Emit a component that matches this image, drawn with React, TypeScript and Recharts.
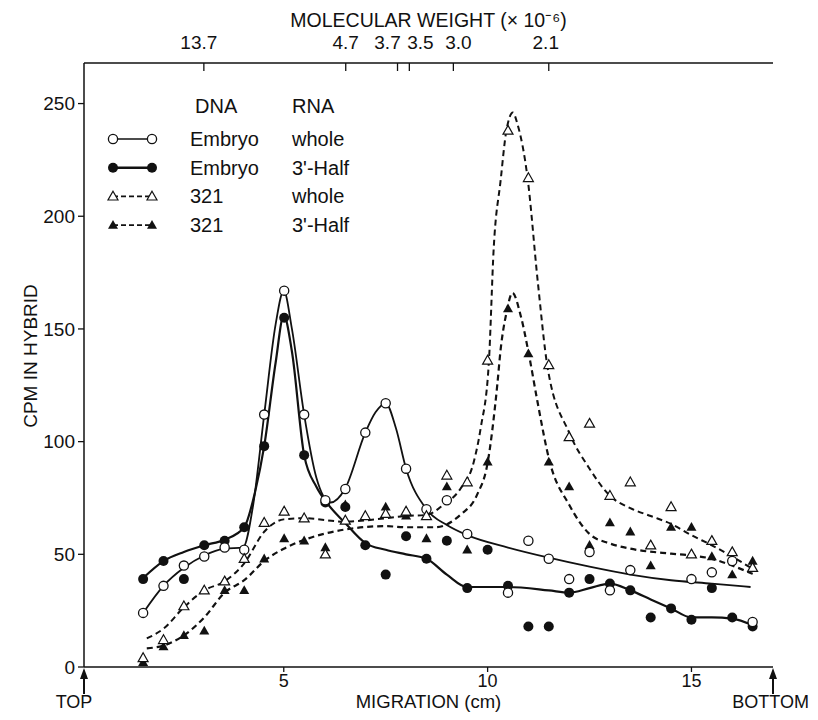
import { ComposedChart, Line, Scatter, XAxis, YAxis, Legend, Label } from "recharts";

const FONT = "'Liberation Sans', Arial, Helvetica, sans-serif";
const INK = "#111";

// gel slices (cm of migration)
const slices = [
  1.55, 2.05, 2.55, 3.05, 3.55, 4.03, 4.52, 5.01, 5.5, 6.02, 6.51, 7.0, 7.5, 8.0, 8.5, 9.0,
  9.5, 10.0, 10.5, 11.0, 11.5, 12.0, 12.5, 13.0, 13.5, 14.0, 14.5, 15.0, 15.5, 16.0, 16.5,
];

// measured CPM per slice
const embryoWhole = [
  24, 36, 45, 49, 53, 52, 112, 167, 112, 74, 79, 104, 117, 88, 70, 74,
  59, null, 33, 56, 48, 39, 51, 34, 43, null, null, 39, 42, 47, 20,
];
const embryoHalf = [
  39, 47, 39, 54, 56, 62, 98, 155, 94, 73, 71, 54, 41, 58, 48, 56,
  35, 52, 36, 18, 18, 33, 39, 37, 34, 22, 26, 21, 35, 22, 18,
];
const c321Whole = [
  4, 12, 27, 34, 38, 48, 64, 69, 66, 50, 65, 67, 68, 69, 67, 85,
  82, 136, 238, 217, 134, 102, 108, 76, 82, 54, 71, 50, 56, 51, 44,
];
const c321Half = [
  2, 9, 14, 16, 34, 34, 48, 57, 56, 53, 72, null, 71, 67, 57, 80,
  52, 91, 159, 139, 91, 80, 54, 64, 60, 45, 62, 62, 49, 41, 47,
];

// hand-drawn fitted curves
const embryoWholeFitX = [1.55, 2.05, 2.55, 3.05, 3.55, 4.0, 4.25, 4.52, 4.8, 5.0, 5.2, 5.5, 5.8, 6.15, 6.5, 7.0, 7.25, 7.5, 7.75, 8.0, 8.5, 9.0, 9.5, 10.5, 11.5, 12.5, 13.5, 14.5, 15.5, 16.45];
const embryoWholeFitY = [24, 36, 44, 49.5, 52.5, 53, 72, 112, 152, 167, 150, 112, 84, 73, 79, 104, 113, 117, 106, 88, 70, 63, 58.5, 53, 48.5, 44.5, 41, 38.5, 37, 35.5];
const embryoHalfFitX = [1.55, 2.05, 2.55, 3.05, 3.55, 4.03, 4.3, 4.52, 4.8, 5.0, 5.2, 5.5, 5.8, 6.05, 6.5, 7.0, 7.5, 8.0, 8.5, 9.0, 9.5, 10.5, 11.5, 12.0, 12.5, 13.0, 13.5, 14.0, 14.5, 15.0, 15.5, 16.0, 16.5];
const embryoHalfFitY = [39.5, 47, 51, 54, 56.5, 62, 78, 98, 135, 156, 140, 94, 80, 73, 64, 55, 52, 50, 48, 41, 35.5, 35.5, 34, 33, 35, 37, 34, 30, 26, 22, 22, 21.5, 18.5];
const c321WholeFitX = [1.64, 2.05, 2.55, 3.05, 3.55, 4.03, 4.52, 5.0, 5.5, 6.5, 7.5, 8.0, 8.5, 8.92, 9.33, 9.66, 9.83, 10.03, 10.15, 10.32, 10.46, 10.62, 10.73, 10.98, 11.23, 11.47, 12.0, 12.5, 13.0, 13.5, 14.0, 14.5, 15.0, 15.5, 16.0, 16.5];
const c321WholeFitY = [12.7, 17, 26.5, 34, 38, 46, 60, 65.5, 66, 64.5, 66, 67, 67.5, 72, 79, 91, 106, 135, 186, 216, 238, 246, 241, 217, 171, 133, 104, 88, 76, 70.5, 67, 63.5, 58.5, 54, 49, 43.5];
const c321HalfFitX = [1.64, 2.05, 2.55, 3.05, 3.55, 4.03, 4.52, 5.0, 5.5, 6.5, 7.5, 8.0, 8.71, 9.33, 9.74, 10.0, 10.24, 10.32, 10.46, 10.61, 10.81, 11.02, 11.22, 11.52, 12.0, 12.5, 13.0, 13.5, 14.5, 15.0, 15.5, 16.0, 16.5];
const c321HalfFitY = [8.3, 9.5, 14, 22, 33, 38.5, 47, 52.5, 56.4, 61, 62.5, 62, 62, 67.5, 76.4, 90.6, 125.7, 141, 157, 166, 156, 138, 118, 91.3, 72, 59, 54.8, 52.5, 50.3, 49.5, 48, 45, 41.3];

// axes
const xTicks = [5, 10, 15];
const yTicks = [0, 50, 100, 150, 200, 250];
const mwPositions = [3.04, 6.52, 7.79, 8.08, 9.16, 11.5];
const mwLabels = ["13.7", "4.7", "3.7", "3.5", "3.0", "2.1"];
const mwShift = [-5, 0, -10, 11, 5, -3];

const toPoints = (vals: (number | null)[]) =>
  slices.map((x, i) => ({ x, y: vals[i] })).filter((p) => p.y != null);
const toCurve = (xs: number[], ys: number[]) => xs.map((x, i) => ({ x, y: ys[i] }));

const OpenCircle = (p: any) => (
  <circle cx={p.cx} cy={p.cy} r={4.6} fill="#fff" stroke={INK} strokeWidth={1.3} />
);
const FilledCircle = (p: any) => <circle cx={p.cx} cy={p.cy} r={5} fill={INK} />;
const tri = (cx: number, cy: number) =>
  `M${cx},${cy - 5.2} L${cx + 5},${cy + 3.6} L${cx - 5},${cy + 3.6} Z`;
const OpenTri = (p: any) => (
  <path d={tri(p.cx, p.cy)} fill="#fff" stroke={INK} strokeWidth={1.2} />
);
const FilledTri = (p: any) => <path d={tri(p.cx, p.cy)} fill={INK} />;

const legendRows = [
  { dna: "Embryo", rna: "whole", dashed: false, mark: "oc" },
  { dna: "Embryo", rna: "3'-Half", dashed: false, mark: "fc" },
  { dna: "321", rna: "whole", dashed: true, mark: "ot" },
  { dna: "321", rna: "3'-Half", dashed: true, mark: "ft" },
];

const LegendMark = ({ kind, cx, cy }: { kind: string; cx: number; cy: number }) => {
  if (kind === "oc") return <OpenCircle cx={cx} cy={cy} />;
  if (kind === "fc") return <FilledCircle cx={cx} cy={cy} />;
  if (kind === "ot") return <OpenTri cx={cx} cy={cy} />;
  return <FilledTri cx={cx} cy={cy} />;
};

const LegendBox = () => (
  <svg width={270} height={150} style={{ display: "block", overflow: "visible" }}>
    <g fontFamily={FONT} fontSize={20} fill={INK}>
      <text x={95} y={16} dominantBaseline="central">DNA</text>
      <text x={192} y={16} dominantBaseline="central">RNA</text>
      {legendRows.map((r, i) => {
        const cy = 49 + i * 28.7;
        return (
          <g key={i}>
            <line
              x1={13}
              x2={52}
              y1={cy}
              y2={cy}
              stroke={INK}
              strokeWidth={r.mark === "fc" ? 2.4 : 1.6}
              strokeDasharray={r.dashed ? "5 3" : undefined}
            />
            <LegendMark kind={r.mark} cx={13} cy={cy} />
            <LegendMark kind={r.mark} cx={52} cy={cy} />
            <text x={90} y={cy} dominantBaseline="central">{r.dna}</text>
            <text x={192} y={cy} dominantBaseline="central">{r.rna}</text>
          </g>
        );
      })}
    </g>
  </svg>
);

const TopTick = (props: any) => {
  const { x, y, payload } = props;
  const i = mwPositions.indexOf(payload.value);
  return (
    <text x={x + (mwShift[i] || 0)} y={y} textAnchor="middle" fontFamily={FONT} fontSize={19} fill={INK}>
      {mwLabels[i]}
    </text>
  );
};

const YTitle = (props: any) => {
  const vb = props.viewBox;
  const x = vb.x + 6;
  const y = vb.y + vb.height / 2 - 9;
  return (
    <text
      x={x}
      y={y}
      transform={`rotate(-90, ${x}, ${y})`}
      textAnchor="middle"
      dominantBaseline="central"
      fontFamily={FONT}
      fontSize={19}
      fill={INK}
    >
      CPM IN HYBRID
    </text>
  );
};

const yTickStyle = { fill: INK, fontSize: 19, fontFamily: FONT };
const xTickStyle = { fill: INK, fontSize: 18, fontFamily: FONT };
const axisLine = { stroke: INK, strokeWidth: 1.5 };

const Arrow = ({ x }: { x: number }) => (
  <g>
    <line x1={x} x2={x} y1={676} y2={694} stroke={INK} strokeWidth={2} />
    <path d={`M${x},${668} L${x + 4},${679} L${x - 4},${679} Z`} fill={INK} />
  </g>
);

export default function App() {
  // the wrapper covers the whole page (cancelling the body margin)
  return (
    <div style={{ position: "relative", width: 818, height: 720, margin: -8 }}>
      <ComposedChart
        width={818}
        height={720}
        margin={{ top: 33, right: 45, left: 24, bottom: 23 }}
      >
        <XAxis
          type="number"
          dataKey="x"
          domain={[0.1, 17]}
          ticks={xTicks}
          allowDataOverflow
          height={30}
          axisLine={axisLine}
          tickLine={{ stroke: INK, strokeWidth: 1.3 }}
          tickSize={5}
          tickMargin={2}
          tick={xTickStyle}
        >
          <Label
            value="MIGRATION (cm)"
            position="insideBottom"
            offset={-11}
            style={{ fill: INK, fontSize: 18.5, fontFamily: FONT }}
          />
        </XAxis>
        <XAxis
          xAxisId="top"
          orientation="top"
          type="number"
          dataKey="x"
          domain={[0.1, 17]}
          ticks={mwPositions}
          interval={0}
          allowDataOverflow
          height={30}
          axisLine={axisLine}
          tickLine={{ stroke: INK, strokeWidth: 1.3 }}
          tickSize={-8}
          tickMargin={22}
          tick={<TopTick />}
        >
          <Label
            value="MOLECULAR WEIGHT (× 10⁻⁶)"
            position="top"
            offset={6}
            style={{ fill: INK, fontSize: 19.5, fontFamily: FONT }}
          />
        </XAxis>
        <YAxis
          type="number"
          dataKey="y"
          domain={[0, 268]}
          ticks={yTicks}
          allowDataOverflow
          width={60}
          axisLine={axisLine}
          tickLine={{ stroke: INK, strokeWidth: 1.3 }}
          tickSize={6}
          tickMargin={3}
          tick={yTickStyle}
        >
          <Label content={<YTitle />} />
        </YAxis>
        <YAxis
          yAxisId="right"
          orientation="right"
          domain={[0, 268]}
          width={0}
          tick={false}
          tickLine={false}
          axisLine={axisLine}
        />

        <Line data={toCurve(embryoWholeFitX, embryoWholeFitY)} dataKey="y" type="monotone" stroke={INK} strokeWidth={1.8} dot={false} isAnimationActive={false} />
        <Line data={toCurve(embryoHalfFitX, embryoHalfFitY)} dataKey="y" type="monotone" stroke={INK} strokeWidth={2.2} dot={false} isAnimationActive={false} />
        <Line data={toCurve(c321WholeFitX, c321WholeFitY)} dataKey="y" type="monotone" stroke={INK} strokeWidth={2} strokeDasharray="6 4" dot={false} isAnimationActive={false} />
        <Line data={toCurve(c321HalfFitX, c321HalfFitY)} dataKey="y" type="monotone" stroke={INK} strokeWidth={2.2} strokeDasharray="6 4" dot={false} isAnimationActive={false} />

        <Scatter data={toPoints(embryoHalf)} shape={<FilledCircle />} isAnimationActive={false} />
        <Scatter data={toPoints(c321Half)} shape={<FilledTri />} isAnimationActive={false} />
        <Scatter data={toPoints(embryoWhole)} shape={<OpenCircle />} isAnimationActive={false} />
        <Scatter data={toPoints(c321Whole)} shape={<OpenTri />} isAnimationActive={false} />

        <Legend
          layout="vertical"
          align="center"
          verticalAlign="middle"
          content={<LegendBox />}
          wrapperStyle={{ left: 100, top: 90, width: 270 }}
        />
      </ComposedChart>

      <svg
        width={818}
        height={720}
        style={{ position: "absolute", left: 0, top: 0, pointerEvents: "none" }}
      >
        <Arrow x={84} />
        <Arrow x={773} />
        <g fontFamily={FONT} fontSize={18} fill={INK}>
          <text x={74} y={708} textAnchor="middle">TOP</text>
          <text x={809} y={708} textAnchor="end">BOTTOM</text>
        </g>
      </svg>
    </div>
  );
}
